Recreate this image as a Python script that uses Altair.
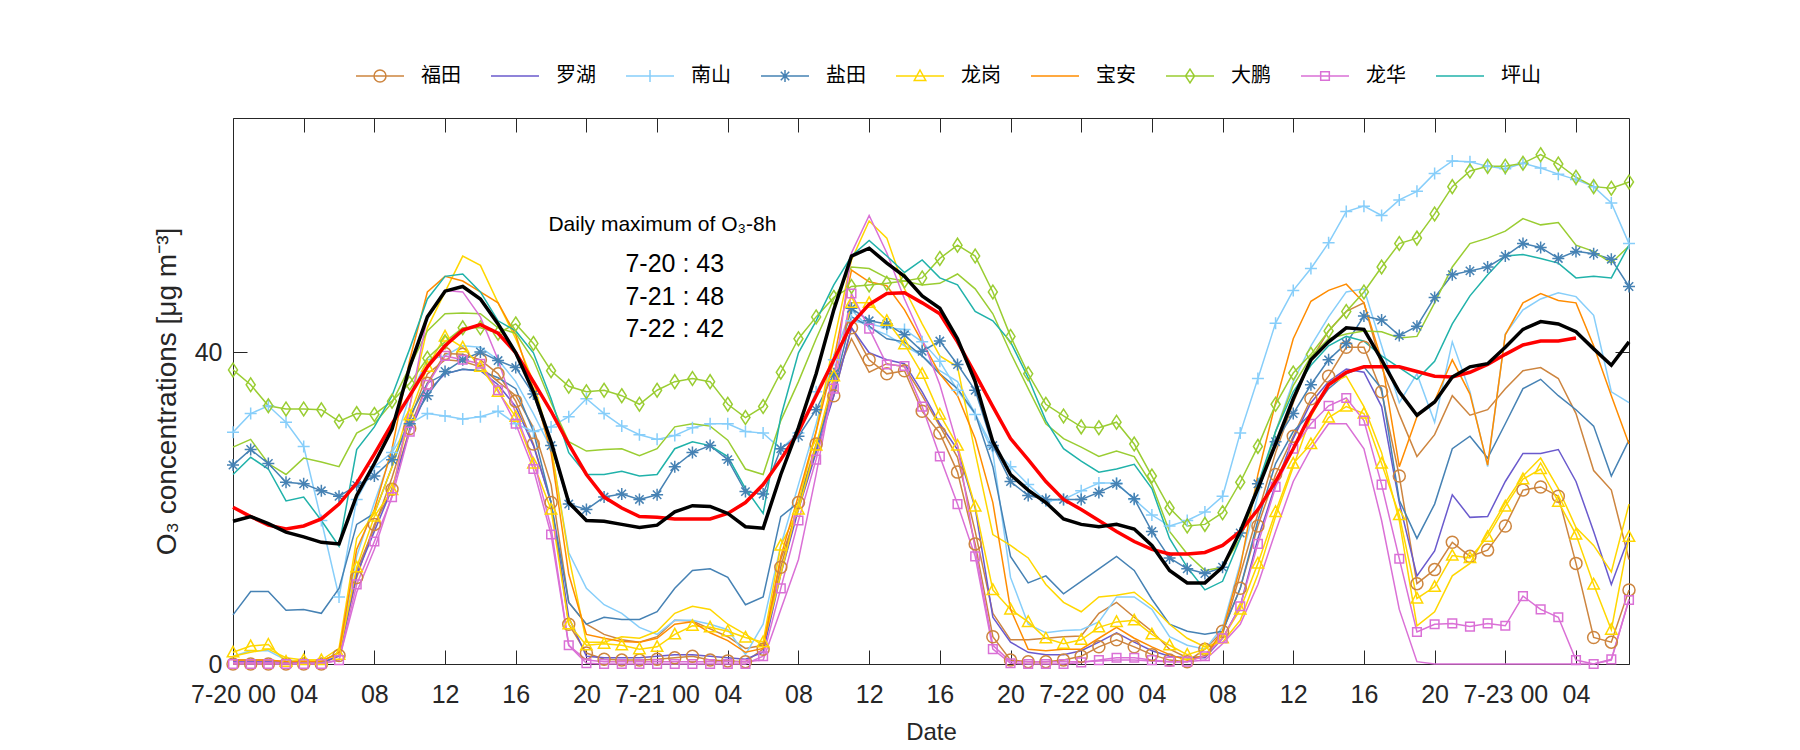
import json
import altair as alt
import pandas as pd

# ---------------- data ----------------
hours = list(range(80))

stations = ["福田", "罗湖", "南山", "盐田", "龙岗", "宝安", "大鹏", "龙华", "坪山"]
colors = ["#CD853F", "#6A5ACD", "#87CEFA", "#4682B4", "#FFD700", "#FF8C00", "#9ACD32", "#DA70D6", "#20B2AA"]

futian_marked = [0, 0, 0, 0, 0, 0, 1.1, 11.1, 17.9, 22.4,
                 30.2, 36.0, 39.8, 39.7, 39.0, 37.2, 33.7, 28.2, 20.7, 5.1,
                 1.4, 0.6, 0.5, 0.5, 0.6, 0.8, 1.0, 0.5, 0.4, 0.3,
                 1.9, 12.4, 20.7, 28.2, 34.4, 43.1, 39.0, 37.2, 37.6, 32.4,
                 29.6, 24.6, 15.4, 3.5, 0.5, 0.3, 0.3, 0.5, 1.0, 2.2,
                 3.1, 2.2, 1.2, 0.5, 0.3, 1.9, 4.2, 9.7, 17.7, 24.3,
                 29.2, 34.0, 36.9, 40.6, 40.6, 34.9, 24.1, 10.3, 12.1, 15.6,
                 13.8, 14.6, 17.7, 22.3, 22.7, 21.5, 12.9, 3.4, 2.8, 9.5]
futian_plain = [0.5, 0.5, 0.5, 0.3, 0.3, 0.3, 1.5, 12.0, 17.5, 23.9,
                31.2, 37.2, 39.0, 38.8, 38.1, 36.2, 34.4, 30.3, 23.0, 7.9,
                5.1, 3.8, 3.1, 2.8, 3.5, 5.6, 5.5, 4.5, 3.5, 2.0,
                2.4, 13.4, 20.0, 27.5, 36.2, 41.7, 37.4, 38.5, 38.1, 34.4,
                30.5, 26.5, 17.0, 6.5, 3.1, 3.1, 3.3, 3.5, 3.6, 6.5,
                7.9, 6.0, 4.2, 1.9, 0.8, 1.0, 3.8, 11.5, 19.3, 27.1,
                33.5, 39.0, 42.7, 45.2, 46.3, 38.1, 32.0, 26.6, 29.4, 34.4,
                31.9, 32.6, 35.3, 37.6, 38.0, 36.6, 32.1, 24.8, 22.3, 13.4]
luohu_plain = [0.3, 0.3, 0.3, 0.2, 0.2, 0.2, 1.0, 11.5, 17.0, 22.5,
               29.8, 34.9, 37.2, 37.8, 37.6, 35.8, 33.0, 28.0, 20.7, 6.0,
               1.0, 0.8, 0.8, 0.8, 1.0, 1.2, 1.2, 1.0, 0.8, 0.6,
               1.5, 11.5, 19.8, 27.1, 34.4, 43.1, 39.9, 39.0, 38.5, 34.9,
               30.8, 27.5, 20.0, 6.0, 2.8, 1.5, 1.2, 1.2, 1.7, 2.8,
               4.0, 2.8, 1.7, 1.0, 0.8, 0.8, 3.3, 7.4, 16.1, 23.0,
               28.9, 33.5, 36.2, 37.8, 37.4, 33.0, 20.7, 11.3, 14.5, 21.7,
               18.8, 18.9, 23.4, 27.0, 27.0, 27.5, 23.4, 17.0, 10.2, 16.3]
nanshan_marked = [29.7, 32.1, 33.1, 31.0, 27.9, 18.4, 8.6, 21.1, 25.3, 27.1,
                  30.8, 32.1, 31.8, 31.4, 31.7, 32.4, 30.8, 29.8, 30.4, 31.7,
                  34.0, 32.1, 30.5, 29.4, 28.8, 29.3, 30.3, 30.8, 30.8, 29.8,
                  29.6, 27.6, 29.6, 34.9, 39.0, 44.0, 43.6, 43.1, 42.9, 41.3,
                  38.8, 35.1, 32.0, 27.8, 25.3, 23.0, 20.9, 21.1, 22.2, 23.2,
                  23.2, 21.1, 19.1, 17.7, 18.4, 19.5, 21.5, 29.6, 36.6, 43.7,
                  47.9, 50.7, 54.0, 58.0, 58.7, 57.5, 59.5, 60.6, 62.9, 64.5,
                  64.4, 63.8, 63.5, 64.2, 63.6, 62.8, 62.1, 61.2, 59.1, 53.9]
nanshan_plain = [1.0, 1.7, 1.7, 0.5, 0.3, 0.3, 1.5, 13.8, 20.7, 27.1,
                 34.4, 39.0, 39.5, 40.8, 40.6, 39.0, 36.2, 32.1, 27.6, 14.3,
                 9.7, 7.6, 6.5, 4.7, 3.8, 5.6, 5.6, 5.1, 4.4, 1.2,
                 5.1, 15.2, 23.0, 30.8, 39.5, 45.4, 43.1, 42.2, 40.8, 39.5,
                 37.6, 36.2, 32.1, 27.1, 11.1, 5.1, 4.0, 4.3, 4.4, 5.4,
                 8.6, 8.6, 7.0, 3.5, 2.4, 1.9, 4.7, 12.9, 21.6, 29.8,
                 36.2, 40.8, 44.5, 47.7, 48.1, 40.8, 33.5, 37.2, 31.0, 41.3,
                 34.9, 25.3, 42.3, 45.4, 46.8, 47.6, 47.1, 44.7, 34.9, 33.5]
yantian_marked = [25.5, 27.5, 25.7, 23.3, 23.1, 22.2, 21.5, 22.9, 24.1, 26.2,
                  30.8, 34.4, 37.5, 39.0, 40.0, 38.9, 38.0, 34.6, 28.0, 20.5,
                  19.8, 21.4, 21.8, 21.1, 21.7, 25.3, 27.1, 28.0, 26.2, 22.1,
                  21.8, 27.6, 29.2, 32.6, 37.2, 45.6, 44.0, 43.6, 42.2, 40.1,
                  41.4, 38.4, 35.1, 28.0, 23.4, 21.6, 21.1, 21.1, 21.1, 22.0,
                  23.1, 21.2, 17.0, 13.6, 12.2, 11.6, 12.4, 16.8, 23.1, 28.5,
                  32.1, 35.8, 39.0, 41.1, 44.6, 44.1, 42.1, 43.3, 47.0, 49.9,
                  50.4, 50.9, 52.3, 53.9, 53.4, 52.0, 52.9, 52.6, 51.9, 48.4]
yantian_plain = [6.3, 9.3, 9.3, 6.9, 7.0, 6.5, 9.7, 17.9, 19.3, 25.3,
                 31.7, 36.0, 37.2, 37.8, 37.6, 36.7, 35.3, 29.8, 20.7, 7.9,
                 5.1, 6.0, 5.7, 5.7, 6.7, 9.7, 12.0, 12.2, 11.1, 7.6,
                 8.6, 18.9, 20.7, 27.6, 35.3, 44.5, 43.3, 41.7, 41.3, 39.5,
                 37.2, 35.3, 32.1, 25.3, 13.8, 10.4, 11.3, 9.0, 10.6, 12.2,
                 13.8, 12.0, 8.3, 5.1, 4.2, 3.8, 4.2, 9.7, 18.4, 25.7,
                 29.8, 32.1, 35.3, 37.2, 38.1, 35.3, 21.0, 16.1, 20.5, 27.6,
                 29.2, 26.4, 30.8, 35.3, 36.5, 34.4, 32.6, 30.5, 24.1, 28.7]
longgang_marked = [1.5, 2.3, 2.5, 0.3, 0.5, 0.5, 1.2, 12.4, 18.9, 22.3,
                   31.9, 38.1, 42.0, 40.6, 38.1, 34.9, 31.7, 25.7, 19.8, 5.1,
                   2.4, 2.6, 2.4, 1.9, 2.2, 3.8, 4.9, 4.7, 4.2, 3.4,
                   2.8, 15.2, 19.8, 28.0, 36.9, 46.3, 46.3, 44.0, 41.0, 37.2,
                   32.0, 28.0, 20.2, 9.5, 7.0, 5.4, 3.3, 2.6, 3.1, 4.7,
                   5.4, 5.6, 3.8, 2.4, 1.2, 1.9, 3.3, 7.0, 12.9, 19.5,
                   25.7, 28.2, 31.6, 33.0, 32.1, 25.7, 19.1, 8.4, 9.9, 13.9,
                   13.6, 16.3, 20.2, 23.7, 25.0, 20.8, 16.6, 10.2, 4.4, 16.3]
longgang_plain = [1.0, 1.5, 1.9, 0.8, 0.5, 0.5, 2.0, 16.1, 19.3, 25.3,
                  33.0, 43.1, 47.7, 52.3, 51.1, 46.3, 41.7, 36.2, 28.0, 13.8,
                  2.8, 2.8, 3.5, 3.3, 4.2, 6.5, 7.4, 7.0, 5.1, 3.8,
                  2.4, 11.5, 20.7, 29.8, 41.3, 51.8, 56.8, 54.6, 48.1, 43.6,
                  39.5, 38.1, 27.1, 16.6, 15.2, 13.6, 10.2, 7.9, 6.7, 8.6,
                  8.8, 9.2, 7.4, 5.1, 3.3, 2.2, 2.8, 5.6, 11.5, 18.9,
                  25.3, 31.7, 35.8, 36.9, 33.0, 27.1, 18.4, 4.9, 6.7, 11.3,
                  12.9, 16.8, 20.7, 24.1, 26.4, 22.5, 17.5, 15.2, 11.8, 20.5]
baoan_plain = [0.5, 0.5, 0.5, 0.3, 0.3, 0.3, 1.5, 14.7, 19.8, 27.6,
               39.0, 47.7, 49.7, 49.1, 47.7, 46.3, 42.2, 35.3, 27.1, 11.5,
               3.8, 3.3, 2.9, 2.8, 3.3, 5.1, 5.4, 4.0, 3.0, 1.5,
               2.0, 13.8, 21.6, 29.8, 39.0, 50.5, 49.0, 48.5, 45.4, 41.3,
               37.2, 34.4, 28.9, 20.7, 7.0, 1.9, 1.7, 1.9, 1.9, 3.3,
               4.7, 3.3, 2.2, 1.2, 0.5, 1.0, 4.2, 12.4, 24.3, 33.5,
               41.7, 46.5, 47.9, 48.7, 46.3, 39.0, 25.3, 31.7, 33.7, 39.0,
               34.6, 25.5, 42.2, 46.3, 47.5, 46.6, 46.3, 40.8, 34.4, 28.2]
dapeng_marked = [37.7, 35.8, 33.1, 32.7, 32.7, 32.6, 31.1, 32.1, 32.0, 33.7,
                 36.0, 39.2, 41.3, 43.1, 43.1, 42.4, 43.6, 41.1, 37.6, 35.6,
                 34.9, 35.1, 34.4, 33.3, 35.1, 36.2, 36.6, 36.2, 33.3, 31.6,
                 33.0, 37.4, 41.7, 44.5, 47.0, 48.4, 48.6, 48.8, 49.1, 49.5,
                 52.0, 53.7, 52.3, 47.7, 42.0, 37.2, 33.3, 31.8, 30.4, 30.3,
                 31.0, 28.2, 24.1, 20.0, 17.7, 17.9, 19.4, 23.3, 27.9, 33.3,
                 37.3, 39.7, 42.7, 45.2, 47.7, 50.9, 53.9, 54.6, 57.7, 61.2,
                 63.2, 63.8, 63.8, 64.2, 65.3, 64.1, 62.4, 61.2, 61.0, 61.8]
dapeng_plain = [27.8, 28.8, 25.7, 24.3, 26.4, 25.9, 25.3, 29.6, 30.8, 33.5,
                38.1, 42.7, 44.9, 45.0, 44.9, 43.1, 42.4, 39.0, 33.5, 28.5,
                27.3, 27.5, 27.6, 26.7, 27.6, 30.4, 30.8, 30.5, 28.7, 25.0,
                24.3, 31.2, 36.2, 41.7, 46.8, 50.9, 50.7, 49.5, 49.1, 48.6,
                48.8, 50.0, 48.1, 44.9, 39.9, 35.3, 30.8, 28.9, 27.8, 26.6,
                27.3, 26.6, 23.0, 17.0, 14.1, 12.0, 12.4, 16.1, 22.5, 29.8,
                35.7, 39.4, 41.7, 42.3, 42.7, 42.6, 41.8, 42.0, 46.3, 50.9,
                53.9, 54.6, 55.5, 57.1, 56.3, 56.6, 53.7, 52.9, 51.4, 53.6]
longhua_marked = [0, 0, 0, 0, 0, 0, 0.5, 10.2, 15.7, 21.4,
                  29.8, 35.8, 39.5, 39.0, 38.5, 35.1, 30.8, 25.0, 16.6, 2.4,
                  0.1, 0, 0, 0, 0, 0, 0, 0, 0, 0,
                  1.0, 9.7, 18.4, 26.2, 35.3, 47.5, 43.0, 38.4, 38.2, 33.0,
                  26.6, 20.5, 13.8, 1.9, 0.1, 0, 0, 0, 0.2, 0.5,
                  0.8, 0.8, 0.5, 0.3, 0.3, 1.0, 3.3, 7.4, 15.4, 22.7,
                  27.6, 30.8, 33.1, 34.1, 31.2, 23.0, 13.5, 4.1, 5.1, 5.2,
                  4.8, 5.2, 4.9, 8.7, 7.0, 6.0, 0.5, 0, 0.6, 8.2]
longhua_plain = [0.2, 0.2, 0.2, 0.1, 0.1, 0.1, 0.5, 9.2, 14.7, 21.6,
                 33.0, 44.5, 47.9, 47.7, 44.5, 39.0, 32.1, 26.2, 17.5, 2.4,
                 0.5, 0.3, 0.3, 0.3, 0.3, 0.3, 0.3, 0.3, 0.3, 0.3,
                 0.5, 7.0, 13.4, 24.3, 36.2, 52.7, 57.5, 52.7, 46.8, 41.7,
                 35.8, 28.0, 14.7, 2.4, 0.3, 0.3, 0.3, 0.3, 0.3, 0.4,
                 0.5, 0.5, 0.4, 0.3, 0.3, 0.5, 2.6, 5.1, 10.2, 17.0,
                 23.4, 27.6, 30.8, 30.8, 27.6, 18.4, 7.0, 0.3, 0, 0,
                 0, 0, 0, 0, 0, 0, 0, 0, 0.5, 8.3]
pingshan_plain = [24.3, 26.5, 25.0, 20.9, 21.4, 18.4, 15.1, 27.5, 30.4, 34.4,
                  40.4, 46.8, 49.7, 50.0, 47.7, 44.0, 42.7, 39.9, 34.0, 27.1,
                  24.3, 24.3, 24.7, 24.1, 24.3, 27.6, 28.5, 28.0, 26.6, 22.5,
                  19.3, 31.7, 39.9, 44.0, 48.6, 52.3, 54.3, 52.3, 50.2, 51.8,
                  49.5, 48.6, 45.2, 44.0, 41.3, 36.7, 31.2, 27.6, 26.0, 24.6,
                  25.0, 25.6, 22.5, 16.1, 12.4, 9.5, 10.6, 16.1, 23.0, 29.8,
                  34.9, 38.3, 40.8, 42.0, 41.4, 39.5, 38.0, 36.5, 38.8, 43.6,
                  47.2, 49.9, 52.3, 52.5, 52.0, 51.4, 49.5, 49.7, 49.5, 53.7]
o3_8h_red = [20.1, 18.9, 17.8, 17.3, 17.7, 18.6, 20.5, 23.2, 26.9, 30.8,
             34.4, 38.1, 40.8, 42.8, 43.5, 42.4, 39.9, 36.2, 32.4, 28.2,
             24.3, 21.4, 20.0, 18.9, 18.8, 18.6, 18.6, 18.6, 19.3, 20.7,
             23.0, 26.2, 29.8, 34.4, 39.0, 43.6, 46.1, 47.5, 47.6, 46.3,
             44.9, 41.3, 37.2, 33.0, 28.9, 26.2, 23.4, 21.1, 19.8, 18.4,
             17.0, 15.7, 14.7, 14.1, 14.1, 14.3, 15.2, 17.0, 19.8, 23.4,
             27.6, 32.1, 35.8, 37.4, 38.1, 38.1, 38.1, 37.5, 36.9, 36.8,
             37.4, 38.4, 39.7, 40.9, 41.4, 41.4, 41.8]
mean_black = [18.3, 18.9, 18.0, 16.9, 16.3, 15.6, 15.4, 21.6, 25.7, 30.1,
              38.1, 44.5, 47.8, 48.4, 46.8, 43.6, 39.9, 34.9, 28.5, 20.7,
              18.4, 18.3, 17.9, 17.5, 17.8, 19.5, 20.3, 20.2, 19.3, 17.6,
              17.4, 24.3, 30.3, 37.2, 45.4, 52.3, 53.3, 51.4, 49.7, 47.2,
              45.6, 41.7, 36.2, 28.5, 24.3, 22.3, 20.7, 18.6, 17.9, 17.6,
              17.9, 17.3, 15.2, 12.0, 10.4, 10.4, 12.4, 17.0, 22.5, 28.2,
              34.0, 39.0, 41.3, 43.1, 42.9, 39.0, 34.9, 31.9, 33.6, 36.8,
              38.1, 38.5, 40.6, 42.9, 43.9, 43.6, 42.6, 40.4, 38.3, 41.3]

tick_vals = list(range(0, 80, 4))
tick_labels = ["7-20 00", "04", "08", "12", "16", "20",
               "7-21 00", "04", "08", "12", "16", "20",
               "7-22 00", "04", "08", "12", "16", "20",
               "7-23 00", "04"]

ann_text = ["Daily maximum of O\u2083-8h", "7-20 : 43", "7-21 : 48", "7-22 : 42"]
ann_x = [24.3, 25.0, 25.0, 25.0]
ann_y = [56.3, 51.3, 47.1, 42.9]
ann_size = [21, 25, 25, 25]

# ---------------- tables ----------------
series = [
    ("福田", "m", futian_marked), ("福田", "p", futian_plain),
    ("罗湖", "p", luohu_plain),
    ("南山", "m", nanshan_marked), ("南山", "p", nanshan_plain),
    ("盐田", "m", yantian_marked), ("盐田", "p", yantian_plain),
    ("龙岗", "m", longgang_marked), ("龙岗", "p", longgang_plain),
    ("宝安", "p", baoan_plain),
    ("大鹏", "m", dapeng_marked), ("大鹏", "p", dapeng_plain),
    ("龙华", "m", longhua_marked), ("龙华", "p", longhua_plain),
    ("坪山", "p", pingshan_plain),
]
rows = []
for st, kind, vals in series:
    for h, v in zip(hours, vals):
        rows.append({"hour": h, "value": v, "station": st, "kind": kind, "sid": st + kind})
df = pd.DataFrame(rows)
df_marked = df[df["kind"] == "m"]
df_red = pd.DataFrame({"hour": hours[:len(o3_8h_red)], "value": o3_8h_red})
df_black = pd.DataFrame({"hour": hours, "value": mean_black})
df_ann = pd.DataFrame({"text": ann_text, "hour": ann_x, "value": ann_y, "fs": ann_size})

# marker glyphs (unit square paths)
CIRCLE = "M-1,0A1,1,0,1,0,1,0A1,1,0,1,0,-1,0Z"
PLUS = "M-1,0L1,0M0,-1L0,1"
STAR = "M-1,0L1,0M0,-1L0,1M-0.7,-0.7L0.7,0.7M-0.7,0.7L0.7,-0.7"
TRI = "M0,-1L0.95,0.75L-0.95,0.75Z"
DIAM = "M0,-1.15L0.75,0L0,1.15L-0.75,0Z"
SQUARE = "M-0.72,-0.72L0.72,-0.72L0.72,0.72L-0.72,0.72Z"
marked_stations = ["福田", "南山", "盐田", "龙岗", "大鹏", "龙华"]
marked_paths = [CIRCLE, PLUS, STAR, TRI, DIAM, SQUARE]

LINE = "M-3,0L3,0"
leg_paths = [
    LINE + "M-0.75,0A0.75,0.75,0,1,0,0.75,0A0.75,0.75,0,1,0,-0.75,0Z",
    LINE,
    LINE + "M-0.75,0L0.75,0M0,-0.75L0,0.75",
    LINE + "M-0.75,0L0.75,0M0,-0.75L0,0.75M-0.53,-0.53L0.53,0.53M-0.53,0.53L0.53,-0.53",
    LINE + "M0,-0.75L0.72,0.56L-0.72,0.56Z",
    LINE,
    LINE + "M0,-0.86L0.56,0L0,0.86L-0.56,0Z",
    LINE + "M-0.54,-0.54L0.54,-0.54L0.54,0.54L-0.54,0.54Z",
    LINE,
]

W, H = 1396, 546
FONT = "Liberation Sans"
TXT = "#262626"

xs = alt.Scale(domain=[0, 79], nice=False, zero=False)
ys = alt.Scale(domain=[0, 70], nice=False, zero=False)
cscale = alt.Scale(domain=stations, range=colors)

label_expr = f"{json.dumps(tick_labels)}[indexof({json.dumps(tick_vals)}, datum.value)]"

x_main = alt.Axis(values=tick_vals, labelExpr=label_expr, ticks=False, domain=False, grid=False,
                  title="Date", labelFont=FONT, titleFont=FONT, labelFontSize=25, titleFontSize=24,
                  titleFontWeight="normal", labelColor=TXT, titleColor=TXT, labelPadding=18,
                  titlePadding=13, labelFlush=False, labelOverlap=False, labelBound=False)
y_main = alt.Axis(values=[0, 40], ticks=False, domain=False, grid=False,
                  title="O\u2083 concentrations [\u03bcg m\u207b\u00b3]", labelFont=FONT, titleFont=FONT,
                  labelFontSize=25, titleFontSize=28, titleFontWeight="normal", labelColor=TXT,
                  titleColor=TXT, labelPadding=11, titlePadding=13, labelFlush=False, labelOverlap=False)

def tick_axis(orient, offset, vals):
    return alt.Axis(orient=orient, offset=offset, values=vals, labels=False, ticks=True, tickSize=14,
                    tickColor=TXT, tickWidth=1, domain=False, grid=False, title=None)

lines = alt.Chart(df).mark_line(strokeWidth=1.5).encode(
    x=alt.X("hour:Q", scale=xs, axis=x_main),
    y=alt.Y("value:Q", scale=ys, axis=y_main),
    color=alt.Color("station:N", scale=cscale, legend=None),
    detail="sid:N",
)

points = alt.Chart(df_marked).mark_point(filled=False, size=144, strokeWidth=1.5, opacity=1).encode(
    x=alt.X("hour:Q", scale=xs, axis=tick_axis("top", -H, tick_vals)),
    y=alt.Y("value:Q", scale=ys, axis=tick_axis("right", -W, [0, 40])),
    color=alt.Color("station:N", scale=cscale, legend=None),
    shape=alt.Shape("station:N", scale=alt.Scale(domain=marked_stations, range=marked_paths), legend=None),
)

red = alt.Chart(df_red).mark_line(color="#FF0000", strokeWidth=3.5).encode(
    x=alt.X("hour:Q", scale=xs, axis=tick_axis("bottom", -H, tick_vals)),
    y=alt.Y("value:Q", scale=ys, axis=tick_axis("left", -W, [0, 40])),
)

black = alt.Chart(df_black).mark_line(color="#000000", strokeWidth=3.5).encode(
    x=alt.X("hour:Q", scale=xs, axis=None),
    y=alt.Y("value:Q", scale=ys, axis=None),
)

leg = alt.Legend(orient="none", legendX=137, legendY=-52, direction="horizontal", columns=9,
                 symbolSize=256, symbolStrokeWidth=1.5, symbolOpacity=1, labelFont="Noto Sans CJK SC",
                 labelFontSize=20, labelColor="#000000", labelOffset=31, columnPadding=27, padding=0,
                 title=None)

legend_layer = alt.Chart(df).mark_point(filled=False, opacity=0).encode(
    x=alt.X("hour:Q", scale=xs, axis=None),
    y=alt.Y("value:Q", scale=ys, axis=None),
    color=alt.Color("station:N", scale=cscale, legend=leg),
    shape=alt.Shape("station:N", scale=alt.Scale(domain=stations, range=leg_paths), legend=leg),
).transform_filter(alt.datum.hour == 0)

ann = alt.Chart(df_ann).mark_text(font=FONT, color="#000000", align="center",
                                  baseline="middle").encode(
    x=alt.X("hour:Q", scale=xs, axis=None),
    y=alt.Y("value:Q", scale=ys, axis=None),
    text="text:N",
    size=alt.Size("fs:Q", scale=None, legend=None),
)

chart = alt.layer(lines, points, red, black, legend_layer, ann).resolve_scale(
    color="independent", shape="independent"
).resolve_axis(x="independent", y="independent").properties(
    width=W, height=H,
    autosize=alt.AutoSizeParams(type="none"),
    padding={"left": 225, "top": 110, "right": 163, "bottom": 86},
    background="white",
).configure_view(stroke=TXT, strokeWidth=1)

chart.save("out.html", embed_options={"renderer": "svg", "actions": False})
